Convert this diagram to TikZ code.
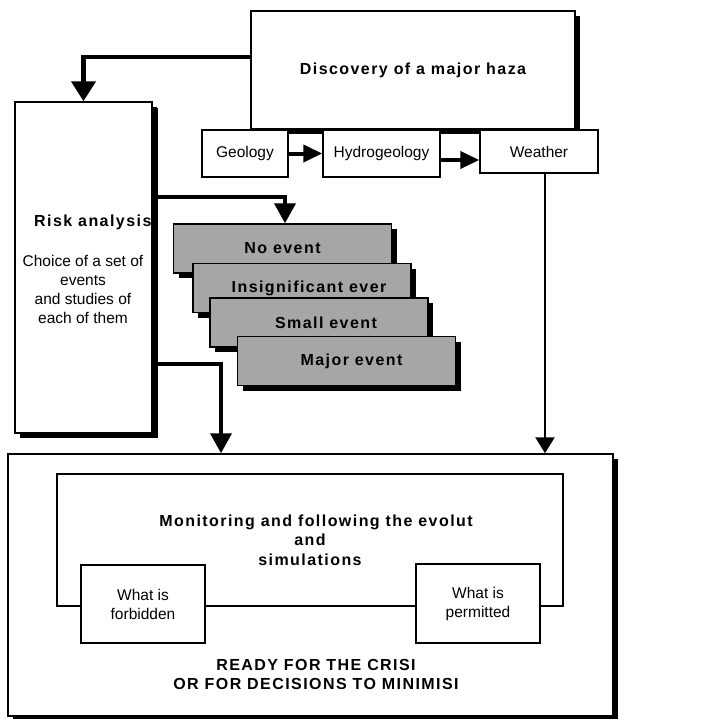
\documentclass[tikz,border=0pt]{standalone}
\usepackage{fontspec}
\setmainfont{Liberation Sans}
\newfontfamily\wfont[LetterSpace=9]{Liberation Sans}
\usetikzlibrary{arrows.meta,shadows}
\begin{document}
\begin{tikzpicture}[x=1pt,y=-1pt,
  box/.style={draw=black, line width=1.5pt, fill=white, inner sep=0pt, align=center,
              font=\fontsize{15.5}{19}\selectfont},
  shbox/.style={box, drop shadow={shadow xshift=5pt, shadow yshift=-5pt, fill=black, opacity=1}},
  evbox/.style={shbox, fill=gray!70, minimum width=218, minimum height=49,
              font=\wfont\bfseries\fontsize{16}{19}\selectfont},
  btxt/.style={font=\wfont\bfseries\fontsize{16}{19}\selectfont, align=center, inner sep=0pt},
  rtxt/.style={font=\fontsize{15.5}{19}\selectfont, align=center, inner sep=0pt},
  bigarrow/.style={line width=4.5pt, -{Triangle[width=24pt,length=20pt]}},
  midarrow/.style={line width=4pt, -{Triangle[width=21pt,length=20pt]}},
  smallarrow/.style={line width=4pt, -{Triangle[width=17pt,length=19pt]}},
  thinarrow/.style={line width=2.5pt, -{Triangle[width=19pt,length=16pt]}}
]
\fill[white] (0,0) rectangle (725,718);
\useasboundingbox (0,0) rectangle (725,718);

% Discovery box and its three sources
\node[shbox, minimum width=324, minimum height=118, font=\wfont\bfseries\fontsize{16}{19}\selectfont] (disc) at (413,70) {Discovery of a major haza};
\node[box, minimum width=86, minimum height=47] (geo) at (245,153.5) {Geology};
\node[box, minimum width=117, minimum height=47] (hydro) at (381.5,153.5) {Hydrogeology};
\node[box, minimum width=118, minimum height=43] (weather) at (539,151.5) {Weather};

% Risk analysis box
\node[shbox, minimum width=137, minimum height=331] (risk) at (83.5,267.5) {};
\node[btxt, anchor=west] (risktitle) at (34,222) {Risk analysis};
\node[rtxt] (risktext) at (83,289.5) {Choice of a set of\\events\\and studies of\\each of them};
\fill[black] (152.75,108) rectangle (157.5,438);

% Event boxes
\node[evbox] (noev) at (282.5,248.5) {No event};
\node[evbox] (insig) at (302,288) {\hspace*{14pt}Insignificant ever};
\node[evbox] (small) at (319,322.5) {\hspace*{14pt}Small event};
\node[evbox] (major) at (346.5,361) {\hspace*{10pt}Major event};

% Bottom box
\node[shbox, minimum width=605, minimum height=262] (outer) at (310.5,585) {};
\node[box, minimum width=506, minimum height=132, font=\wfont\bfseries\fontsize{16}{19.5}\selectfont] (inner) at (310,540) {\hspace*{12pt}Monitoring and following the evolut\\and\\simulations};
\node[box, minimum width=124, minimum height=78] (forb) at (143,604) {What is\\forbidden};
\node[box, minimum width=124, minimum height=79] (perm) at (478,603.5) {What is\\permitted};
\node[btxt] (ready) at (316,674) {READY FOR THE CRISI\\OR FOR DECISIONS TO MINIMISI};

% Connectors
\draw[bigarrow] ([yshift=13pt]disc.west) -| (risk.north);
\draw[midarrow] ([yshift=70.5pt]risk.east) -| ([xshift=2.5pt]noev.north);
\draw[midarrow] ([yshift=-96.5pt]risk.east) -| ([xshift=-89.5pt]outer.north);
\draw[thinarrow] ([xshift=6pt]weather.south) -- ([xshift=6pt]weather.south |- outer.north);
\draw[smallarrow] (geo) -- (hydro);
\draw[smallarrow] ([yshift=-6.5pt]hydro.east) -- ([yshift=-6.5pt]hydro.east -| weather.west);
\end{tikzpicture}
\end{document}
